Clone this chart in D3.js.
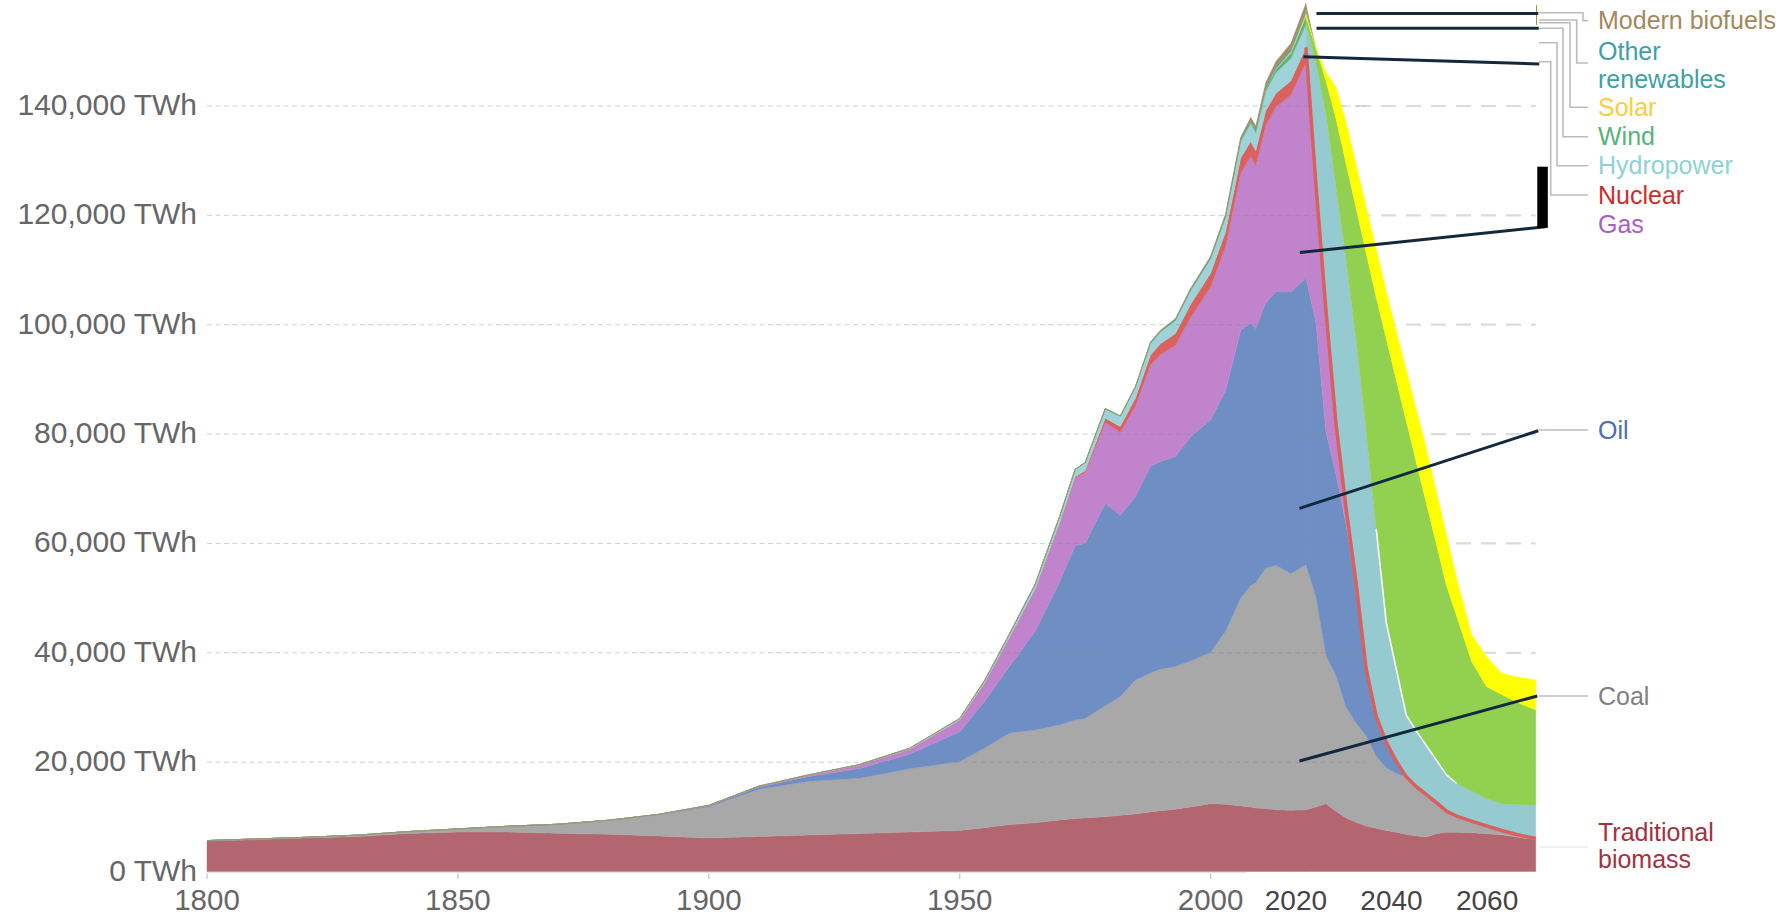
<!DOCTYPE html>
<html lang="en">
<head>
  <meta charset="UTF-8" />
  <title>Global primary energy consumption by source</title>
  <script src="https://d3js.org/d3.v7.min.js"></script>
  <style>
    html, body {
      margin: 0;
      padding: 0;
      background: #fff;
      overflow: hidden;
    }
    svg {
      display: block;
      font-family: "Liberation Sans", Arial, sans-serif;
    }
  </style>
</head>
<body>
  <svg width="1782" height="917"></svg>

  <script>
    // ---- data (TWh) ----
    const sources = ["trad", "coal", "oil", "gas", "nuclear", "hydro", "wind", "solar", "other", "biofuels"];

    const histYears = [1800, 1810, 1820, 1830, 1840, 1850, 1860, 1870, 1880, 1890, 1900, 1910, 1920, 1930, 1940, 1950,
      1955, 1960, 1965, 1970, 1973, 1975, 1979, 1982, 1985, 1988, 1990, 1993, 1996,
      2000, 2003, 2006, 2008, 2009, 2011, 2013, 2016, 2019];
    const histTrad = [5560, 5830, 6110, 6390, 6940, 7220, 7220, 7000, 6800, 6500, 6110, 6390, 6670, 6940, 7220, 7500,
      8000, 8610, 8900, 9440, 9700, 9800, 10000, 10300, 10500, 10900, 11100, 11400, 11800,
      12400, 12300, 12000, 11800, 11600, 11500, 11300, 11200, 11300];
    const histCoal = [97, 128, 153, 264, 356, 569, 1061, 1642, 2542, 3856, 5728, 8656, 9833, 10125, 11586, 12603,
      14600, 16700, 17000, 17400, 18000, 18200, 20300, 21700, 24500, 25400, 25900, 26100, 26700,
      27700, 31700, 38000, 40500, 41200, 44000, 44700, 43300, 44800];
    const histOil = [0, 0, 0, 0, 0, 0, 0, 6, 33, 89, 181, 397, 889, 1756, 2653, 5444,
      8600, 12300, 18000, 26300, 31900, 32000, 37000, 33200, 33500, 37800, 38000, 38400, 41000,
      42500, 44000, 49000, 48000, 46500, 48500, 50000, 51500, 52500];
    const histGas = [0, 0, 0, 0, 0, 0, 0, 0, 0, 0, 64, 142, 233, 603, 875, 2092,
      3300, 5278, 7600, 10700, 12400, 12900, 14800, 15100, 16600, 18500, 19500, 20300, 21800,
      24300, 26400, 28700, 30500, 29800, 32500, 33800, 36000, 39300];
    const histNuclear = [0, 0, 0, 0, 0, 0, 0, 0, 0, 0, 0, 0, 0, 0, 0, 0,
      0, 1, 27, 79, 200, 370, 800, 1100, 1420, 1800, 2000, 2200, 2380,
      2500, 2580, 2790, 2730, 2700, 2650, 2480, 2610, 2800];
    const histHydro = [0, 0, 0, 0, 0, 0, 0, 0, 0, 0, 6, 34, 64, 128, 192, 333,
      480, 688, 923, 1207, 1330, 1470, 1700, 1850, 2000, 2150, 2200, 2400, 2580,
      2700, 2800, 3050, 3270, 3280, 3550, 3800, 4100, 4220];
    const histWind = [0, 0, 0, 0, 0, 0, 0, 0, 0, 0, 0, 0, 0, 0, 0, 0,
      0, 0, 0, 0, 0, 0, 0, 0, 0, 0, 4, 8, 12,
      31, 63, 133, 220, 275, 436, 640, 960, 1420];
    const histSolar = [0, 0, 0, 0, 0, 0, 0, 0, 0, 0, 0, 0, 0, 0, 0, 0,
      0, 0, 0, 0, 0, 0, 0, 0, 0, 0, 0, 0, 0,
      1, 3, 6, 12, 20, 65, 140, 330, 720];
    const histOther = [0, 0, 0, 0, 0, 0, 0, 0, 0, 0, 0, 0, 0, 0, 0, 0,
      0, 0, 20, 40, 45, 50, 75, 90, 140, 180, 200, 220, 240,
      270, 300, 340, 370, 380, 420, 460, 540, 650];
    const histBiofuels = [0, 0, 0, 0, 0, 0, 0, 0, 0, 0, 0, 0, 0, 0, 0, 0,
      0, 0, 0, 0, 0, 0, 0, 0, 0, 90, 100, 110, 120,
      110, 160, 300, 530, 590, 690, 800, 930, 1100];

    // hand-drawn scenario after 2019
    const projYears = [2021, 2023, 2025, 2027, 2029, 2031, 2033, 2035, 2037, 2039,
      2041, 2043, 2045, 2047, 2049, 2052, 2055, 2058, 2061, 2064.8];
    const projTrad = [11800, 12400, 11000, 9800, 9000, 8300, 7900, 7500, 7200, 6750,
      6500, 6300, 6900, 7200, 7200, 7100, 6900, 6700, 6300, 5800];
    const projCoal = [38470, 27090, 24830, 20250, 18160, 16480, 13220, 11480, 10730, 10560,
      9000, 7770, 5710, 3850, 2940, 2120, 1430, 800, 470, 240];
    const projOil = [50100, 40860, 36830, 33350, 24420, 11620, 6680, 4020, 1970, 0,
      0, 0, 0, 0, 0, 0, 0, 0, 0, 0];
    const projGas = [25170, 22150, 9120, 3020, 1120, 650, 600, 620, 250, 0,
      0, 0, 0, 0, 0, 0, 0, 0, 0, 0];
    const projHydro = [22220, 36030, 43470, 45550, 44590, 43550, 34270, 21940, 16890, 11290,
      10190, 8950, 7760, 6630, 6000, 5510, 5010, 4870, 5470, 6070];
    const projWind = [2820, 6040, 12380, 17490, 24040, 32520, 42310, 51900, 52820, 53760,
      49110, 44300, 39480, 34620, 30660, 23700, 20460, 20000, 18720, 17440];
    const projSolar = [0, 1670, 5790, 7550, 8000, 8450, 8890, 8720, 8990, 9350,
      9680, 10030, 9670, 9290, 6960, 4950, 5490, 3910, 4630, 5490];

    const yTicks = [0, 20000, 40000, 60000, 80000, 100000, 120000, 140000];
    const xTicks = [1800, 1850, 1900, 1950, 2000];
    const scenarioTicks = [2020, 2040, 2060];

    const labels = [["Modern biofuels"], ["Other", "renewables"], ["Solar"], ["Wind"], ["Hydropower"],
      ["Nuclear"], ["Gas"], ["Oil"], ["Coal"], ["Traditional", "biomass"]];

    // annotation strokes, in [year, TWh]
    const pointers = [
      [[2021.1, 156900], [2065.3, 156900]],
      [[2021.1, 154200], [2065.4, 154200]],
      [[2018.5, 149000], [2065.5, 147700]],
      [[2017.8, 113200], [2066.7, 117900]],
      [[2017.7, 66400], [2065.3, 80600]],
      [[2017.7, 20200], [2065.1, 32100]]
    ];
    const blackBar = [[2065.1, 128900], [2067.2, 117700]];

    // ---- styles / layout ----
    const histColor = {
      trad: "#b3666f", coal: "#a8a8a8", oil: "#6f8fc4", gas: "#c184cc", nuclear: "#d9625f",
      hydro: "#9dd3d9", wind: "#5fb383", solar: "#f3c74a", other: "#4fa3a6", biofuels: "#a88b64"
    };
    const projColor = Object.assign({}, histColor, { hydro: "#96cad1", wind: "#92d050", solar: "#ffff00" });
    const labelColor = ["#a4875d", "#3ea1a4", "#fbcd3b", "#56b47b", "#8fd1d7", "#d12c26", "#a85ec5",
      "#4b6db3", "#7f7f7f", "#a2323f"];
    const labelY = [20.7, 51.7, 107.3, 136, 165.7, 195, 224, 430, 696, 832];
    const connectors = [
      { y0: 12.7, ex: 1583, y1: 20.7 }, { y0: 20, ex: 1576.7, y1: 63 }, { y0: 22.7, ex: 1570, y1: 107.3 },
      { y0: 28.3, ex: 1563, y1: 136.7 }, { y0: 42.7, ex: 1557, y1: 165.7 }, { y0: 61.7, ex: 1550.7, y1: 195 },
      null, { y0: 430, ex: 1560, y1: 430 }, { y0: 696, ex: 1560, y1: 696 }, { y0: 847, ex: 1560, y1: 847, faint: true }
    ];

    const svg = d3.select("svg");
    const x = d3.scaleLinear().domain([1800, 2000]).range([207, 1210.6]);
    const y = d3.scaleLinear().domain([0, 140000]).range([871.5, 106]);
    const xs = d3.scaleLinear().domain([2020, 2060]).range([x(2017.0), x(2055.1)]);

    const rows = histYears.map((yr, i) => ({
      year: yr, trad: histTrad[i], coal: histCoal[i], oil: histOil[i], gas: histGas[i],
      nuclear: histNuclear[i], hydro: histHydro[i], wind: histWind[i], solar: histSolar[i],
      other: histOther[i], biofuels: histBiofuels[i]
    }));
    projYears.forEach((yr, i) => rows.push({
      year: yr, trad: projTrad[i], coal: projCoal[i], oil: projOil[i], gas: projGas[i],
      nuclear: 0, hydro: projHydro[i], wind: projWind[i], solar: projSolar[i], other: 0, biofuels: 0
    }));
    const series = d3.stack().keys(sources)(rows);

    const lastHist = 2019;
    const xEnd = x(2064.8);

    // long dashed extension of the grid (behind)
    svg.append("g").selectAll("line")
      .data(yTicks.slice(1))
      .enter().append("line")
      .attr("x1", x(lastHist)).attr("x2", xEnd)
      .attr("y1", d => y(d)).attr("y2", d => y(d))
      .attr("stroke", "#dcdcdc").attr("stroke-width", 2.2)
      .attr("stroke-dasharray", "15,10");

    const area = d3.area()
      .x(d => x(d.data.year))
      .y0(d => y(d[0]))
      .y1(d => y(d[1]));

    // historical layers
    svg.append("g").selectAll("path")
      .data(series)
      .enter().append("path")
      .attr("d", s => area.defined(d => d.data.year <= lastHist)(s))
      .attr("fill", s => histColor[s.key])
      .attr("stroke", s => histColor[s.key])
      .attr("stroke-width", 0.4);

    // scenario fossil layers
    const fossil = series.filter(s => ["trad", "coal", "oil", "gas"].includes(s.key));
    svg.append("g").selectAll("path")
      .data(fossil)
      .enter().append("path")
      .attr("d", s => area.defined(d => d.data.year >= lastHist)(s))
      .attr("fill", s => projColor[s.key])
      .attr("stroke", s => projColor[s.key])
      .attr("stroke-width", 0.4);

    // fine dashed grid over the areas
    svg.append("g").selectAll("line")
      .data(yTicks.slice(1))
      .enter().append("line")
      .attr("x1", x(1800)).attr("x2", 1365)
      .attr("y1", d => y(d)).attr("y2", d => y(d))
      .attr("stroke", "#888").attr("stroke-opacity", 0.4)
      .attr("stroke-dasharray", "5,3.5");

    // scenario renewables and the rest
    const rest = series.filter(s => !["trad", "coal", "oil", "gas"].includes(s.key));
    const bands = ["hydro", "wind", "solar"];
    svg.append("g").selectAll("path")
      .data(rest)
      .enter().append("path")
      .attr("d", s => area.defined(d => d.data.year >= lastHist)(s))
      .attr("fill", s => projColor[s.key])
      .attr("stroke", s => bands.includes(s.key) ? projColor[s.key] : "none")
      .attr("stroke-width", 0.4);

    // white seam between hydro and wind
    const topLine = d3.line().x(d => x(d.data.year)).y(d => y(d[1]));
    svg.append("path")
      .attr("d", topLine.defined(d => d.data.year >= 2033 && d.data.year <= 2049)(series[5]))
      .attr("fill", "none").attr("stroke", "#fff").attr("stroke-width", 1.5);

    // red outline of fossil + nuclear in scenario
    svg.append("path")
      .attr("d", topLine.defined(d => d.data.year >= lastHist)(series[4]))
      .attr("fill", "none").attr("stroke", "#d9605d").attr("stroke-width", 3.5)
      .attr("stroke-linejoin", "round");

    // y axis labels
    svg.append("g").selectAll("text")
      .data(yTicks)
      .enter().append("text")
      .attr("x", 197).attr("y", d => y(d)).attr("dy", "0.3em")
      .attr("text-anchor", "end")
      .attr("fill", "#666").style("font-size", "30px")
      .text(d => d3.format(",")(d) + " TWh");

    // x axis
    svg.append("line")
      .attr("x1", x(1800)).attr("x2", x(2007))
      .attr("y1", 872.5).attr("y2", 872.5)
      .attr("stroke", "#e2e2e2").attr("stroke-width", 1);
    const xg = svg.append("g");
    xg.selectAll("line")
      .data(xTicks)
      .enter().append("line")
      .attr("x1", d => x(d)).attr("x2", d => x(d))
      .attr("y1", 873.5).attr("y2", 879)
      .attr("stroke", "#ccc").attr("stroke-width", 1.5);
    xg.selectAll("text")
      .data(xTicks)
      .enter().append("text")
      .attr("x", d => x(d)).attr("y", 910)
      .attr("text-anchor", "middle")
      .attr("fill", "#666").style("font-size", "29.5px")
      .text(d => d);
    svg.append("g").selectAll("text")
      .data(scenarioTicks)
      .enter().append("text")
      .attr("x", d => xs(d)).attr("y", 910)
      .attr("text-anchor", "middle")
      .attr("fill", "#444").style("font-size", "28px")
      .text(d => d);

    // legend connectors
    const conn = svg.append("g").attr("fill", "none");
    connectors.forEach(c => {
      if (!c) return;
      conn.append("path")
        .attr("d", `M1539,${c.y0}H${c.ex}V${c.y1}H1588`)
        .attr("stroke", c.faint ? "#ececec" : "#bcbcbc")
        .attr("stroke-width", 1.6);
    });
    svg.append("line")
      .attr("x1", 1536.5).attr("x2", 1536.5).attr("y1", 5).attr("y2", 25)
      .attr("stroke", "#b08850").attr("stroke-width", 1);

    // legend labels
    const lg = svg.append("g").style("font-size", "25px");
    labels.forEach((lines, i) => {
      const t = lg.append("text")
        .attr("x", 1598).attr("y", labelY[i])
        .attr("fill", labelColor[i]);
      lines.forEach((ln, j) => {
        t.append("tspan").attr("x", 1598).attr("dy", j === 0 ? "0.35em" : "27.5px").text(ln);
      });
    });

    // hand-drawn pointers
    svg.append("g").selectAll("line")
      .data(pointers)
      .enter().append("line")
      .attr("x1", d => x(d[0][0])).attr("y1", d => y(d[0][1]))
      .attr("x2", d => x(d[1][0])).attr("y2", d => y(d[1][1]))
      .attr("stroke", "#13283d").attr("stroke-width", 3);
    svg.append("rect")
      .attr("x", x(blackBar[0][0])).attr("y", y(blackBar[0][1]))
      .attr("width", x(blackBar[1][0]) - x(blackBar[0][0]))
      .attr("height", y(blackBar[1][1]) - y(blackBar[0][1]))
      .attr("fill", "#000");
  </script>
</body>
</html>
